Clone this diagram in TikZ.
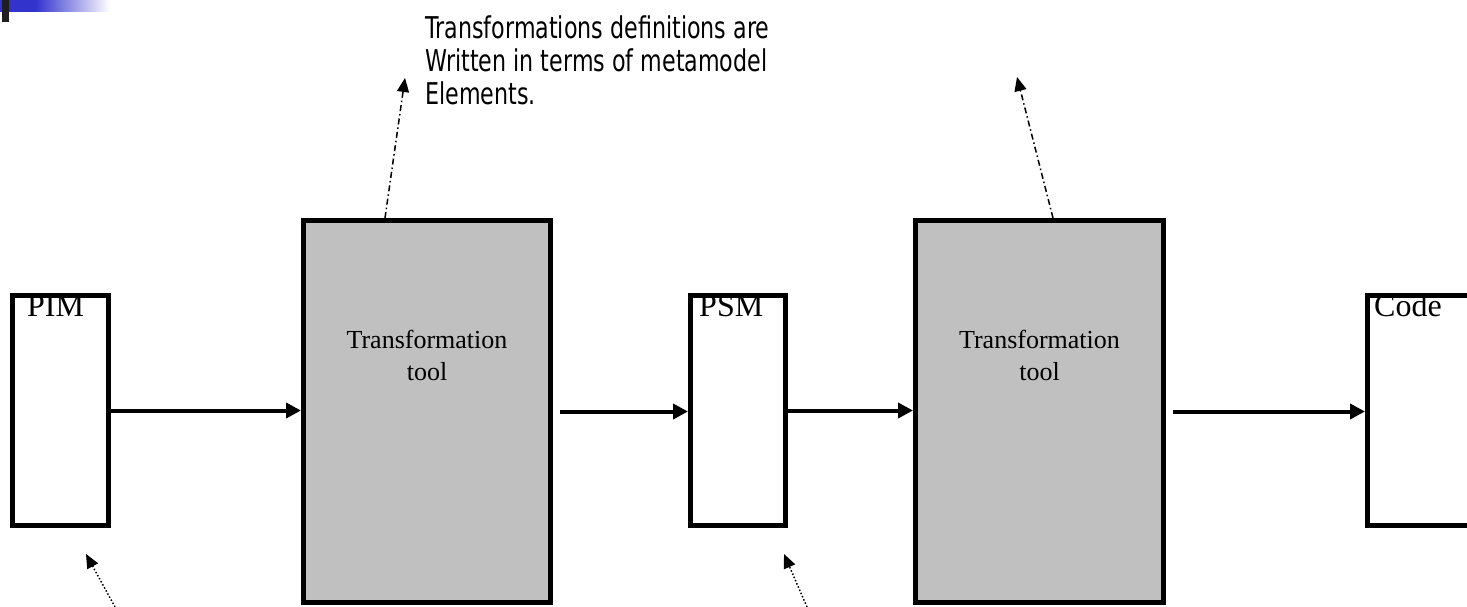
\documentclass[tikz,border=0pt]{standalone}
\usepackage{fontspec}
\setmainfont{Liberation Serif}
\newfontfamily\notefont[FakeStretch=0.74]{DejaVu Sans}
\usetikzlibrary{arrows.meta}
\definecolor{toolgray}{RGB}{192,192,192}
\definecolor{barblue}{RGB}{50,50,205}
\definecolor{bardark}{RGB}{30,30,30}
\begin{document}
\begin{tikzpicture}[x=1pt,y=-1pt,
  box/.style={draw=black, line width=5pt, rectangle, inner sep=0pt},
  model/.style={box, fill=white, minimum width=96pt, minimum height=230pt},
  tool/.style={box, fill=toolgray, minimum width=247pt, minimum height=382pt},
  boxtext/.style={font=\fontsize{26}{32}\selectfont, inner sep=0pt},
  labeltext/.style={font=\fontsize{32}{36}\selectfont, inner sep=0pt},
  flow/.style={line width=4pt, -{Triangle[length=15pt,width=15pt]}},
  dashdot/.style={line width=1.5pt, dash pattern=on 6pt off 3pt on 1.5pt off 3pt, -{Triangle[length=14pt,width=12pt]}},
  dotline/.style={line width=1.5pt, dash pattern=on 1.5pt off 2pt, -{Triangle[length=14pt,width=12pt]}},
  note/.style={font=\notefont\fontsize{30}{33}\selectfont, align=left, inner sep=0pt}
]
\useasboundingbox (0,0) rectangle (1467,607);
\clip (0,0) rectangle (1467,607);
% header decoration
\fill[barblue] (0,0) rectangle (35,12);
\shade[left color=barblue, right color=white] (35,0) rectangle (110,12);
\fill[bardark] (2,0) rectangle (9,22);

% boxes
\node[model] (pim) at (60.5,410.5) {};
\node[tool] (t1) at (427,411.5) {};
\node[model, minimum width=95pt] (psm) at (738,410.5) {};
\node[tool, minimum width=248pt] (t2) at (1039.5,411.5) {};
\node[model, minimum width=108pt] (code) at (1421.5,410.5) {};

% labels
\node[labeltext, anchor=base west] (pimlbl) at (27,316) {PIM};
\node[labeltext, anchor=base west] (psmlbl) at (699,316) {PSM};
\node[labeltext, anchor=base west] (codelbl) at (1374,316) {Code};
\node[boxtext, align=center] (t1lbl) at (427,355) {Transformation\\tool};
\node[boxtext, align=center] (t2lbl) at (1039.5,355) {Transformation\\tool};

% flow arrows
\draw[flow] (pim.east) -- (pim.east -| t1.west);
\draw[flow, shorten <=7pt] (t1.east) -- (t1.east -| psm.west);
\draw[flow] (psm.east) -- (psm.east -| t2.west);
\draw[flow, shorten <=7pt] (t2.east) -- (t2.east -| code.west);

% note
\node[note, anchor=north west] (note) at (425,16) {Transformations definitions are\\Written in terms of metamodel\\Elements.};
\coordinate (h1) at (405,78);
\coordinate (h2) at (1017,77);
\draw[dashdot] (t1.north -| 385,0) -- (h1);
\draw[dashdot] (t2.north -| 1053,0) -- (h2);

% dotted arrows from below
\coordinate (d1) at (115,607);
\coordinate (d2) at (807,607);
\draw[dotline] (d1) -- (86,554);
\draw[dotline] (d2) -- (784,554);
\end{tikzpicture}
\end{document}
